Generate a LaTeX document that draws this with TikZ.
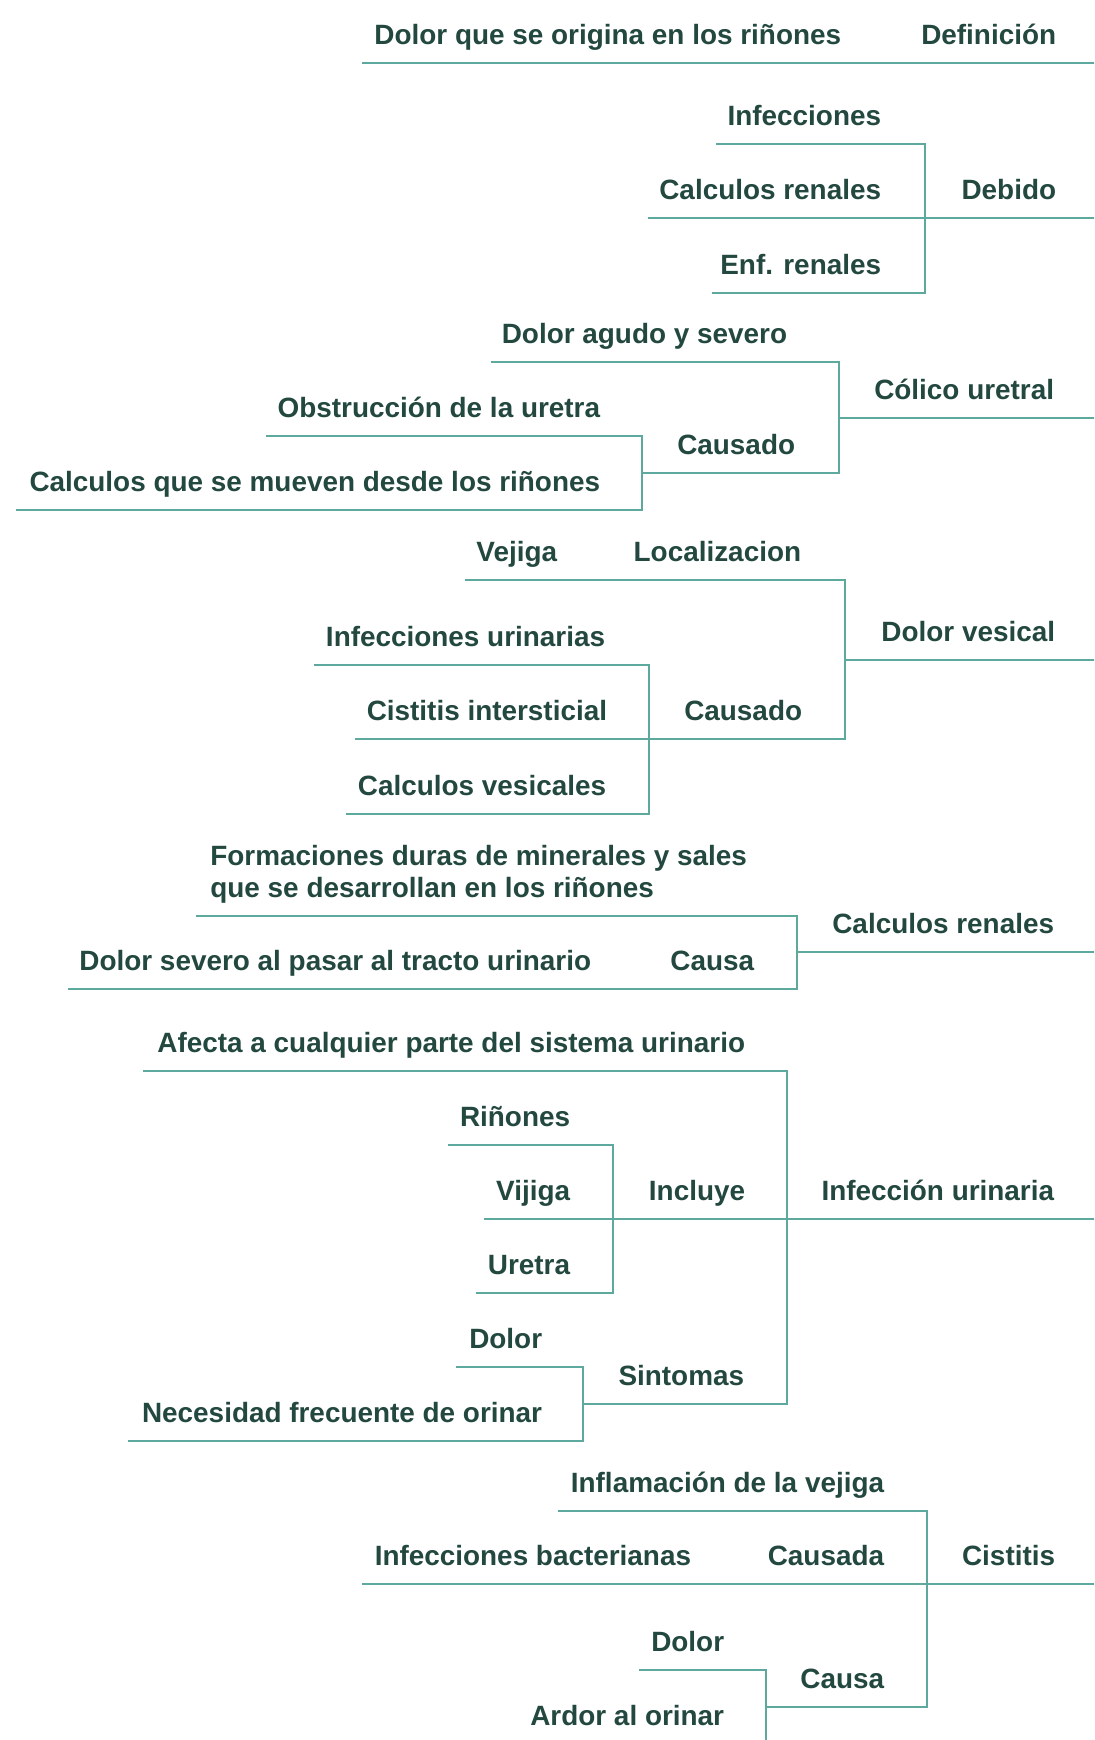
\documentclass[tikz,border=0pt]{standalone}
\usepackage{fontspec}
\setmainfont{Liberation Sans}
\definecolor{tcol}{HTML}{23483F}
\definecolor{lcol}{HTML}{5EA99D}
\newcommand\mmnode[6]{%
  \node[txt] (#1) at (#3+0.5,#4-19) {#2};
  \coordinate (#1-l) at (#5,#4);
  \coordinate (#1-r) at (#6,#4);
  \draw[ln] (#1-l) -- (#1-r);}
\begin{document}
\begin{tikzpicture}[x=0.5pt,y=-0.5pt,
  txt/.style={anchor=base east,inner sep=0pt,text=tcol,font=\fontsize{13.95}{16}\selectfont\bfseries},
  ln/.style={draw=lcol,line width=1pt,line cap=rect}]
\useasboundingbox (0,0) rectangle (1094,1740);
\clip (0,0) rectangle (1094,1740);
% Definicion
\mmnode{def}{Definición}{1056}{63}{857}{1094}
\mmnode{dolorOrig}{Dolor que se origina en los riñones}{841}{63}{363}{857}
% Debido
\mmnode{debido}{Debido}{1056}{218}{925}{1094}
\mmnode{infec}{Infecciones}{881}{144}{717}{925}
\mmnode{calcR}{Calculos renales}{881}{218}{649}{925}
\mmnode{enf}{Enf. renales}{881}{293}{713}{925}
\draw[ln] (infec-r) -- (enf-r);
% Colico uretral
\mmnode{colico}{Cólico uretral}{1054}{418}{839}{1094}
\mmnode{agudo}{Dolor agudo y severo}{787}{362}{492}{839}
\mmnode{causadoA}{Causado}{795}{473}{642}{839}
\mmnode{obstr}{Obstrucción de la uretra}{600}{436}{267}{642}
\mmnode{calcMov}{Calculos que se mueven desde los riñones}{600}{510}{17}{642}
\draw[ln] (agudo-r) -- (causadoA-r);
\draw[ln] (obstr-r) -- (calcMov-r);
% Dolor vesical
\mmnode{vesical}{Dolor vesical}{1055}{660}{845}{1094}
\mmnode{local}{Localizacion}{801}{580}{570}{845}
\mmnode{vejiga}{Vejiga}{557}{580}{466}{570}
\mmnode{causadoB}{Causado}{802}{739}{649}{845}
\mmnode{infUr}{Infecciones urinarias}{605}{665}{315}{649}
\mmnode{cistInt}{Cistitis intersticial}{607}{739}{356}{649}
\mmnode{calcVes}{Calculos vesicales}{606}{814}{347}{649}
\draw[ln] (local-r) -- (causadoB-r);
\draw[ln] (infUr-r) -- (calcVes-r);
% Calculos renales
\mmnode{renales}{Calculos renales}{1054}{952}{797}{1094}
\node[txt,anchor=base west] (formac) at (210,897)
  {\begin{tabular}[b]{@{}l@{}}Formaciones duras de minerales y sales\\que se desarrollan en los riñones\end{tabular}};
\coordinate (formac-l) at (197,916);
\coordinate (formac-r) at (797,916);
\draw[ln] (formac-l) -- (formac-r);
\mmnode{causaA}{Causa}{754}{989}{606}{797}
\mmnode{dolorSev}{Dolor severo al pasar al tracto urinario}{591}{989}{69}{606}
\draw[ln] (formac-r) -- (causaA-r);
% Infeccion urinaria
\mmnode{infUrin}{Infección urinaria}{1054}{1219}{787}{1094}
\mmnode{afecta}{Afecta a cualquier parte del sistema urinario}{745}{1071}{144}{787}
\mmnode{incluye}{Incluye}{745}{1219}{613}{787}
\mmnode{rinones}{Riñones}{570}{1145}{449}{613}
\mmnode{vijiga}{Vijiga}{570}{1219}{485}{613}
\mmnode{uretra}{Uretra}{570}{1293}{477}{613}
\mmnode{sintomas}{Sintomas}{744}{1404}{583}{787}
\mmnode{dolorB}{Dolor}{542}{1367}{457}{583}
\mmnode{necesidad}{Necesidad frecuente de orinar}{542}{1441}{129}{583}
\draw[ln] (afecta-r) -- (sintomas-r);
\draw[ln] (rinones-r) -- (uretra-r);
\draw[ln] (dolorB-r) -- (necesidad-r);
% Cistitis
\mmnode{cistitis}{Cistitis}{1055}{1584}{927}{1094}
\mmnode{inflam}{Inflamación de la vejiga}{884}{1511}{559}{927}
\mmnode{causada}{Causada}{884}{1584}{704}{927}
\mmnode{infBact}{Infecciones bacterianas}{691}{1584}{363}{704}
\mmnode{causaB}{Causa}{884}{1707}{766}{927}
\mmnode{dolorC}{Dolor}{724}{1670}{640}{766}
\mmnode{ardor}{Ardor al orinar}{724}{1744}{518}{766}
\draw[ln] (inflam-r) -- (causaB-r);
\draw[ln] (dolorC-r) -- (ardor-r);
\end{tikzpicture}
\end{document}
